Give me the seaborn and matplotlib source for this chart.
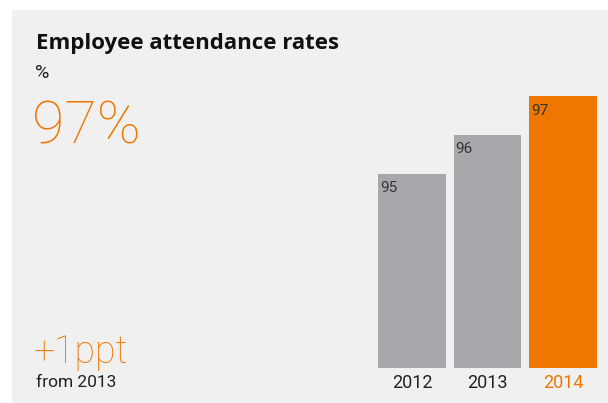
import matplotlib
matplotlib.use("Agg")
import matplotlib.pyplot as plt
import seaborn as sns
import pandas as pd
from matplotlib.patches import Rectangle

years = ["2012", "2013", "2014"]
rates = [95, 96, 97]
bar_colors = ["#a7a8ac", "#a7a8ac", "#ef7700"]
label_colors = ["#222222", "#222222", "#ef7700"]
title = "Employee attendance rates"
unit = "%"
headline = "97%"
change = "+1ppt"
change_note = "from 2013"

sns.set_theme(style="white")
plt.rcParams["font.family"] = ["Roboto", "DejaVu Sans"]

W, H = 608, 403
fig = plt.figure(figsize=(W / 100, H / 100), dpi=100)
fig.patch.set_facecolor("white")
fig.patches.append(Rectangle((12 / W, 0), 1 - 12 / W, 1 - 10 / H, transform=fig.transFigure,
                             facecolor="#f0f0f0", edgecolor="none", zorder=-5))

def px(x, y):
    return x / W, 1 - y / H

ax = fig.add_axes([374.25 / W, (H - 368) / H, 226.5 / W, 272 / H])
ax.set_facecolor("none")
df = pd.DataFrame({"year": years, "rate": rates})
sns.barplot(data=df, x="year", y="rate", hue="year", palette=bar_colors, width=0.9,
            ax=ax, legend=False, saturation=1, linewidth=0)
ax.set_ylim(90, 97)
ax.set_xlim(-0.5, 2.5)
for s in ax.spines.values():
    s.set_visible(False)
ax.set_yticks([])
ax.set_xlabel("")
ax.set_ylabel("")
ax.tick_params(axis="x", length=0, pad=4)
ax.set_xticks(range(len(years)))
ax.set_xticklabels(years, fontsize=13)
for lbl, c in zip(ax.get_xticklabels(), label_colors):
    lbl.set_color(c)
for i, v in enumerate(rates):
    ax.annotate(str(v), (i - 0.45, v), xytext=(1.5, -5.5), textcoords="offset points",
                ha="left", va="top", fontsize=11, color="#333333")

fig.text(*px(36, 49), title, fontsize=16, fontweight="bold", color="#111111", va="baseline",
         family=["Open Sans", "DejaVu Sans"])
fig.text(*px(35, 78), unit, fontsize=14, color="#222222", va="baseline")
fig.text(*px(32, 143), headline, fontsize=42.5, color="#ef7700", va="baseline", fontweight="light")
fig.text(*px(34, 363), change, fontsize=27, color="#ef7700", va="baseline", fontweight="light")
fig.text(*px(36, 387), change_note, fontsize=12.5, color="#222222", va="baseline")

fig.savefig("out.png", dpi=100, facecolor="white")
